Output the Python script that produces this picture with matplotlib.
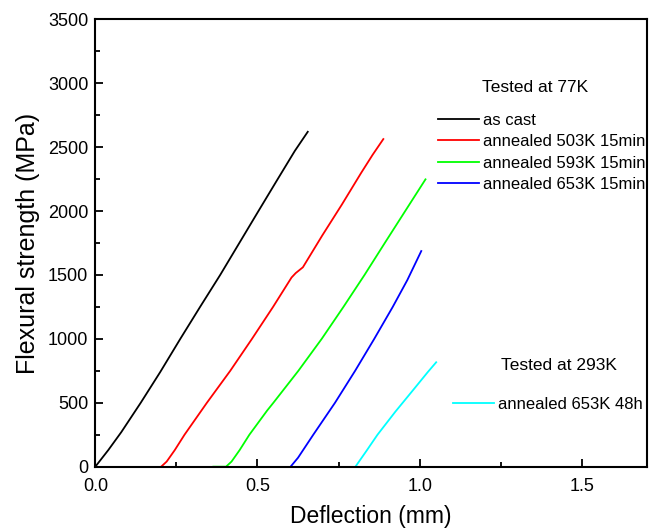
import matplotlib
matplotlib.use("Agg")
import matplotlib.pyplot as plt
from matplotlib.ticker import MultipleLocator, FormatStrFormatter

plt.rcParams['font.family'] = ['Liberation Sans', 'DejaVu Sans']

# deflection (mm) / flexural strength (MPa)
as_cast_x = [0.0, 0.04, 0.08, 0.14, 0.20, 0.262, 0.323, 0.385, 0.444, 0.503, 0.56, 0.615, 0.655]
as_cast_y = [0, 130, 270, 500, 740, 1000, 1250, 1500, 1750, 2000, 2240, 2470, 2620]

a503_x = [0.203, 0.22, 0.245, 0.275, 0.344, 0.416, 0.483, 0.548, 0.605, 0.618, 0.64,
          0.70, 0.76, 0.82, 0.855, 0.888]
a503_y = [0, 40, 130, 250, 500, 750, 1000, 1250, 1480, 1515, 1560,
          1810, 2050, 2300, 2440, 2563]

a593_x = [0.364, 0.403, 0.42, 0.445, 0.475, 0.53, 0.549, 0.626, 0.698, 0.765, 0.83, 0.895, 0.958, 1.018]
a593_y = [0, 0, 40, 130, 250, 440, 500, 750, 1000, 1250, 1500, 1760, 2010, 2248]

a653_x = [0.602, 0.625, 0.672, 0.739, 0.801, 0.86, 0.917, 0.962, 1.005]
a653_y = [0, 70, 250, 500, 750, 1000, 1250, 1460, 1687]

a653_48h_x = [0.802, 0.835, 0.87, 0.925, 0.98, 1.025, 1.051]
a653_48h_y = [0, 120, 250, 430, 600, 740, 817]

labels_77 = ["as cast", "annealed 503K 15min", "annealed 593K 15min", "annealed 653K 15min"]
label_293 = "annealed 653K 48h"

fig = plt.figure(figsize=(6.56, 5.29), dpi=100)
ax = fig.add_axes([0.1453, 0.1178, 0.8405, 0.8457])

lw = 1.3
l1, = ax.plot(as_cast_x, as_cast_y, color="black", lw=lw)
l2, = ax.plot(a503_x, a503_y, color="#ff0000", lw=lw)
l3, = ax.plot(a593_x, a593_y, color="#00ff00", lw=lw)
l4, = ax.plot(a653_x, a653_y, color="#0000ff", lw=lw)
l5, = ax.plot(a653_48h_x, a653_48h_y, color="#00ffff", lw=lw)

ax.set_xlim(0, 1.7)
ax.set_ylim(0, 3500)
ax.xaxis.set_major_locator(MultipleLocator(0.5))
ax.xaxis.set_minor_locator(MultipleLocator(0.25))
ax.xaxis.set_major_formatter(FormatStrFormatter("%.1f"))
ax.yaxis.set_major_locator(MultipleLocator(500))
ax.yaxis.set_minor_locator(MultipleLocator(250))
ax.tick_params(which="both", direction="in", top=False, right=False, width=1.3)
ax.tick_params(which="major", length=6, labelsize=13, pad=5)
ax.tick_params(axis="x", which="major", pad=8)
ax.tick_params(which="minor", length=3.5)
for s in ax.spines.values():
    s.set_linewidth(1.5)

ax.set_xlabel("Deflection (mm)", fontsize=16.5, labelpad=7)
ax.set_ylabel("Flexural strength (MPa)", fontsize=18, labelpad=6)

ax.text(0.797, 0.848, "Tested at 77K", transform=ax.transAxes, ha="center", va="center", fontsize=12.5)
ax.text(0.841, 0.227, "Tested at 293K", transform=ax.transAxes, ha="center", va="center", fontsize=12.5)

leg1 = ax.legend([l1, l2, l3, l4], labels_77, loc="upper left", bbox_to_anchor=(0.621, 0.791),
                 frameon=False, fontsize=12, borderpad=0, borderaxespad=0,
                 handlelength=2.46, handletextpad=0.26, labelspacing=0.39)
ax.add_artist(leg1)
ax.legend([l5], [label_293], loc="upper left", bbox_to_anchor=(0.648, 0.156),
          frameon=False, fontsize=12, borderpad=0, borderaxespad=0,
          handlelength=2.46, handletextpad=0.26)

fig.savefig("out.png", dpi=100)
